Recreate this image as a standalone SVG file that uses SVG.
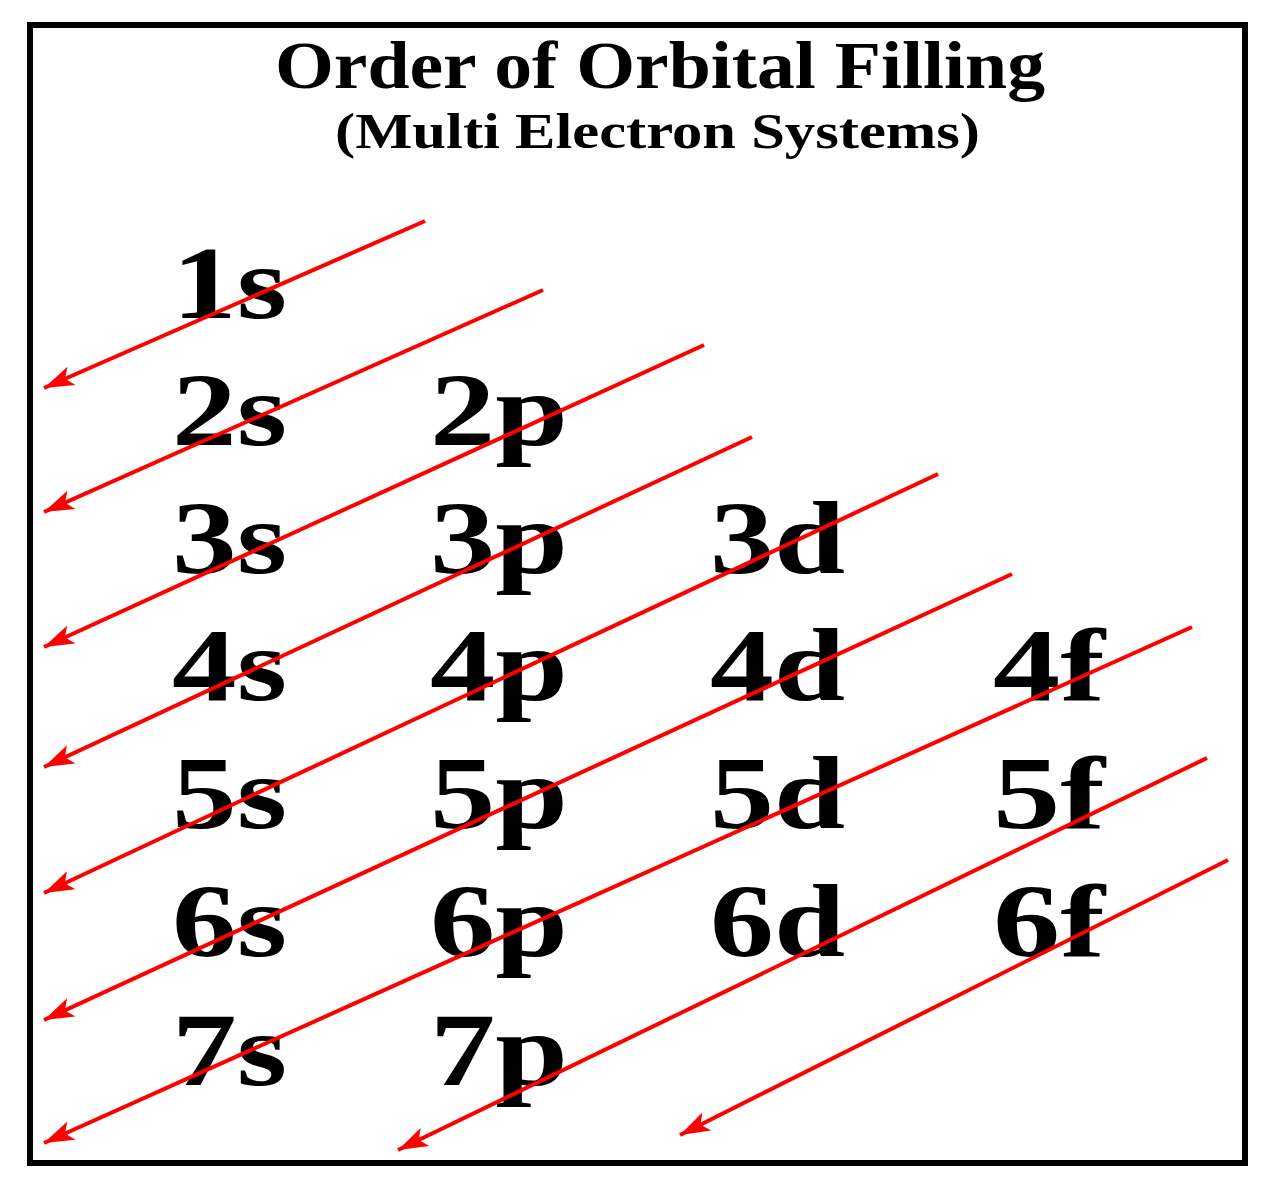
<svg xmlns="http://www.w3.org/2000/svg" width="1273" height="1200" viewBox="0 0 1273 1200">
<style>
.lbl{font-family:"Liberation Serif","Times New Roman",serif;font-weight:bold;font-size:104px;fill:#000}
.title{font-family:"Liberation Serif","Times New Roman",serif;font-weight:bold;fill:#000}
.arr{stroke:#ff0000;stroke-width:4;fill:none;marker-end:url(#ah)}
</style>
<defs>
<marker id="ah" markerUnits="userSpaceOnUse" markerWidth="32" markerHeight="24" viewBox="0 0 32 24" refX="30" refY="12" orient="auto">
<path d="M0,2 L30,12 L0,22 L7,12 Z" fill="#ff0000"/>
</marker>
</defs>
<rect x="0" y="0" width="1273" height="1200" fill="#fff"/>
<rect id="frame" x="30" y="25" width="1215" height="1138" fill="none" stroke="#000" stroke-width="6"/>
<g id="title">
<text class="title" x="275" y="88" font-size="68" textLength="770" lengthAdjust="spacingAndGlyphs">Order of Orbital Filling</text>
<text class="title" x="335" y="148" font-size="50" textLength="645" lengthAdjust="spacingAndGlyphs">(Multi Electron Systems)</text>
</g>
<g id="n1s"><text class="lbl" x="172" y="318" textLength="115" lengthAdjust="spacingAndGlyphs">1s</text></g>
<g id="n2s"><text class="lbl" x="172" y="445" textLength="115" lengthAdjust="spacingAndGlyphs">2s</text></g>
<g id="n2p"><text class="lbl" x="430" y="445" textLength="138" lengthAdjust="spacingAndGlyphs">2p</text></g>
<g id="n3s"><text class="lbl" x="172" y="573" textLength="115" lengthAdjust="spacingAndGlyphs">3s</text></g>
<g id="n3p"><text class="lbl" x="430" y="573" textLength="138" lengthAdjust="spacingAndGlyphs">3p</text></g>
<g id="n3d"><text class="lbl" x="710" y="573" textLength="135" lengthAdjust="spacingAndGlyphs">3d</text></g>
<g id="n4s"><text class="lbl" x="172" y="700" textLength="115" lengthAdjust="spacingAndGlyphs">4s</text></g>
<g id="n4p"><text class="lbl" x="430" y="700" textLength="138" lengthAdjust="spacingAndGlyphs">4p</text></g>
<g id="n4d"><text class="lbl" x="710" y="700" textLength="135" lengthAdjust="spacingAndGlyphs">4d</text></g>
<g id="n4f"><text class="lbl" x="993" y="700" textLength="112" lengthAdjust="spacingAndGlyphs">4f</text></g>
<g id="n5s"><text class="lbl" x="172" y="828" textLength="115" lengthAdjust="spacingAndGlyphs">5s</text></g>
<g id="n5p"><text class="lbl" x="430" y="828" textLength="138" lengthAdjust="spacingAndGlyphs">5p</text></g>
<g id="n5d"><text class="lbl" x="710" y="828" textLength="135" lengthAdjust="spacingAndGlyphs">5d</text></g>
<g id="n5f"><text class="lbl" x="993" y="828" textLength="112" lengthAdjust="spacingAndGlyphs">5f</text></g>
<g id="n6s"><text class="lbl" x="172" y="956" textLength="115" lengthAdjust="spacingAndGlyphs">6s</text></g>
<g id="n6p"><text class="lbl" x="430" y="956" textLength="138" lengthAdjust="spacingAndGlyphs">6p</text></g>
<g id="n6d"><text class="lbl" x="710" y="956" textLength="135" lengthAdjust="spacingAndGlyphs">6d</text></g>
<g id="n6f"><text class="lbl" x="993" y="956" textLength="112" lengthAdjust="spacingAndGlyphs">6f</text></g>
<g id="n7s"><text class="lbl" x="172" y="1085" textLength="115" lengthAdjust="spacingAndGlyphs">7s</text></g>
<g id="n7p"><text class="lbl" x="430" y="1085" textLength="138" lengthAdjust="spacingAndGlyphs">7p</text></g>
<g id="connectors">
<line class="arr" x1="425" y1="221" x2="44" y2="388"/>
<line class="arr" x1="543" y1="290" x2="44" y2="512"/>
<line class="arr" x1="704" y1="345" x2="44" y2="647"/>
<line class="arr" x1="752" y1="437" x2="44" y2="767"/>
<line class="arr" x1="938" y1="474" x2="44" y2="893"/>
<line class="arr" x1="1012" y1="574" x2="44" y2="1020"/>
<line class="arr" x1="1192" y1="627" x2="44" y2="1143"/>
<line class="arr" x1="1207" y1="758" x2="398" y2="1150"/>
<line class="arr" x1="1228" y1="860" x2="680" y2="1135"/>
</g>
</svg>
